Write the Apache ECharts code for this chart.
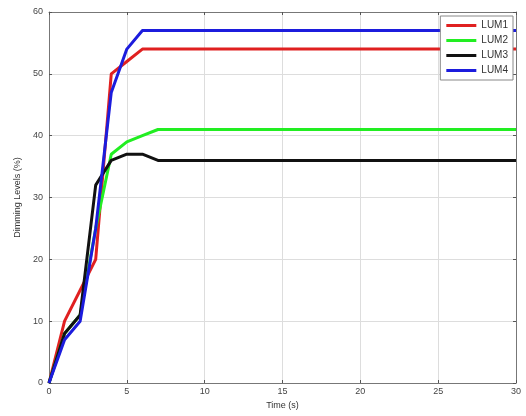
<!DOCTYPE html>
<html><head><meta charset="utf-8">
<script src="https://cdn.jsdelivr.net/npm/echarts@6/dist/echarts.min.js"></script>
<style>html,body{margin:0;padding:0;background:#fff}#c{width:526px;height:416px}</style>
</head><body><div id="c"></div>
<script>
const seriesNames = ['LUM1', 'LUM2', 'LUM3', 'LUM4'];
const time = [0, 1, 2, 3, 4, 5, 6, 7, 30];
const lum1 = [0, 10, 15, 20, 50, 52, 54, 54, 54];
const lum2 = [0, 8, 11, 25, 37, 39, 40, 41, 41];
const lum3 = [0, 8, 11, 32, 36, 37, 37, 36, 36];
const lum4 = [0, 7, 10, 25, 47, 54, 57, 57, 57];
const colors = ['#e02020', '#22ee22', '#111111', '#1c1cdd'];
const xTicks = [0, 5, 10, 15, 20, 25, 30];
const yTicks = [0, 10, 20, 30, 40, 50, 60];

const all = [lum1, lum2, lum3, lum4];
const chart = echarts.init(document.getElementById('c'));
const tickStyle = {inside: true, length: 3, lineStyle: {color: '#555'}};
const lineCol = '#777';
chart.setOption({
  animation: false,
  grid: {left: 49, right: 10, top: 12, bottom: 33},
  legend: {
    right: 13, top: 16, orient: 'vertical', itemWidth: 30, itemHeight: 3, itemGap: 4,
    backgroundColor: '#fff', borderColor: '#888', borderWidth: 1, padding: [4, 5, 4, 6],
    textStyle: {fontSize: 10, color: '#333', fontFamily: 'Liberation Sans Narrow, Liberation Sans', lineHeight: 11},
    icon: 'rect',
    data: seriesNames
  },
  xAxis: [{
    type: 'value', min: 0, max: 30, interval: 5,
    name: 'Time (s)', nameLocation: 'middle', nameGap: 15,
    nameTextStyle: {fontSize: 9, color: '#333', fontFamily: 'Liberation Sans'},
    axisLine: {show: true, onZero: false, lineStyle: {color: lineCol}},
    axisTick: tickStyle,
    axisLabel: {fontSize: 9, color: '#444', margin: 4, fontFamily: 'Liberation Sans',
      formatter: v => xTicks.includes(v) ? String(v) : ''},
    splitLine: {show: true, lineStyle: {color: '#ddd', width: 1}}
  }, {
    type: 'value', position: 'top', min: 0, max: 30, interval: 5,
    axisLine: {show: true, onZero: false, lineStyle: {color: lineCol}},
    axisTick: tickStyle, axisLabel: {show: false}, splitLine: {show: false}
  }],
  yAxis: [{
    type: 'value', min: 0, max: 60, interval: 10,
    name: 'Dimming Levels (%)', nameLocation: 'middle', nameGap: 25,
    nameTextStyle: {fontSize: 9, color: '#333', fontFamily: 'Liberation Sans'},
    axisLine: {show: true, onZero: false, lineStyle: {color: lineCol}},
    axisTick: tickStyle,
    axisLabel: {fontSize: 9, color: '#444', margin: 6, fontFamily: 'Liberation Sans',
      formatter: v => yTicks.includes(v) ? String(v) : ''},
    splitLine: {show: true, lineStyle: {color: '#ddd', width: 1}}
  }, {
    type: 'value', position: 'right', min: 0, max: 60, interval: 10,
    axisLine: {show: true, onZero: false, lineStyle: {color: lineCol}},
    axisTick: tickStyle, axisLabel: {show: false}, splitLine: {show: false}
  }],
  series: seriesNames.map((n, i) => ({
    name: n, type: 'line', showSymbol: false, symbol: 'none',
    data: time.map((t, j) => [t, all[i][j]]),
    lineStyle: {color: colors[i], width: 3},
    itemStyle: {color: colors[i]}
  }))
});
</script></body></html>
